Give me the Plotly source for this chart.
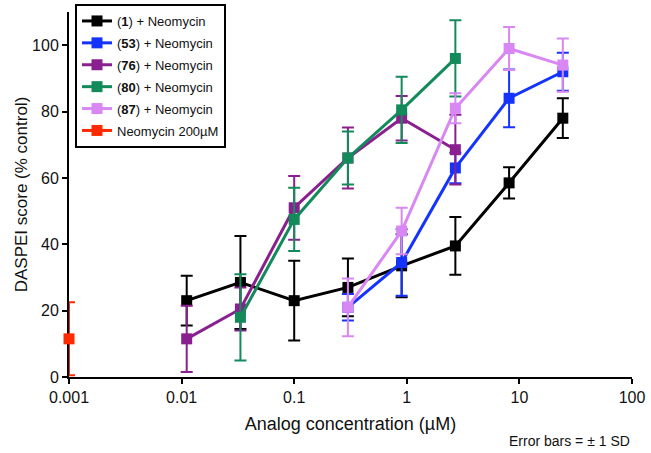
import plotly.graph_objects as go

conc = [0.0111, 0.0333, 0.1, 0.3, 0.9, 2.7, 8.1, 24.3]

names = ["(<b>1</b>) + Neomycin", "(<b>53</b>) + Neomycin", "(<b>76</b>) + Neomycin",
         "(<b>80</b>) + Neomycin", "(<b>87</b>) + Neomycin", "Neomycin 200\u00b5M"]
colors = ["#000000", "#1433ff", "#8a2090", "#138a5a", "#d987f2", "#ff2a00"]

c1_x = conc
c1_y = [23, 28.5, 23, 27, 33.5, 39.5, 58.5, 78]
c1_e = [7.5, 14, 12, 8.7, 9.5, 8.7, 4.7, 6]

c53_x = conc[3:]
c53_y = [21, 34.5, 63, 84, 92]
c53_e = [4, 10, 4.6, 8.7, 5.7]

c76_x = conc[:6]
c76_y = [11.5, 20.5, 51, 66, 78, 68.5]
c76_e = [10, 6.5, 9.6, 9.2, 6.7, 10.5]

c80_x = conc[1:6]
c80_y = [18, 47.5, 66, 80.5, 96]
c80_e = [13, 9.5, 8, 10, 11.5]

c87_x = conc[3:]
c87_y = [21, 44, 81, 99, 94]
c87_e = [8.7, 7, 4.5, 6.5, 8]

neo_x = [0.001]
neo_y = [11.5]
neo_e = [11]

series = [(c1_x, c1_y, c1_e), (c53_x, c53_y, c53_e), (c76_x, c76_y, c76_e),
          (c80_x, c80_y, c80_e), (c87_x, c87_y, c87_e), (neo_x, neo_y, neo_e)]

fig = go.Figure()
for i, ((xs, ys, es), nm, col) in enumerate(zip(series, names, colors)):
    fig.add_trace(go.Scatter(
        x=xs, y=ys, name=nm, mode="lines+markers",
        line=dict(color=col, width=3),
        marker=dict(symbol="square", size=11, color=col),
        error_y=dict(type="data", array=es, visible=True, color=col, thickness=2, width=6),
        cliponaxis=False, legendgroup="g%d" % i,
    ))

fig.update_layout(
    width=651, height=453,
    margin=dict(l=69, r=19, t=12, b=76, autoexpand=False),
    paper_bgcolor="white", plot_bgcolor="white",
    font=dict(family="Liberation Sans, Arial, sans-serif", size=16, color="#111"),
    showlegend=True,
    legend=dict(x=6 / 563, y=1 + 8 / 365, xanchor="left", yanchor="top",
                bordercolor="black", borderwidth=2, bgcolor="white",
                font=dict(size=13), tracegroupgap=2),
    xaxis=dict(type="log", range=[-3, 2], automargin=True, layer="below traces",
               tickvals=[0.001, 0.01, 0.1, 1, 10, 100],
               ticktext=["0.001", "0.01", "0.1", "1", "10", "100"],
               showgrid=False, zeroline=False, showline=True, linecolor="black", linewidth=2,
               ticks="outside", ticklen=5, tickwidth=2, tickcolor="black",
               title=dict(text="Analog concentration (\u00b5M)", font=dict(size=18), standoff=12)),
    yaxis=dict(range=[0, 110], tickvals=[0, 20, 40, 60, 80, 100], automargin=True,
               layer="below traces",
               showgrid=False, zeroline=False, showline=True, linecolor="black", linewidth=2,
               ticks="outside", ticklen=5, tickwidth=2, tickcolor="black",
               title=dict(text="DASPEI score (% control)", font=dict(size=17), standoff=0)),
    annotations=[dict(text="Error bars = \u00b1 1 SD", xref="paper", yref="paper",
                      x=1.0, y=-64 / 365, xanchor="right", yanchor="middle",
                      showarrow=False, font=dict(size=14))],
)

fig.write_html("out.html", config={"displayModeBar": False},
               post_script="document.body.style.margin='0';")
